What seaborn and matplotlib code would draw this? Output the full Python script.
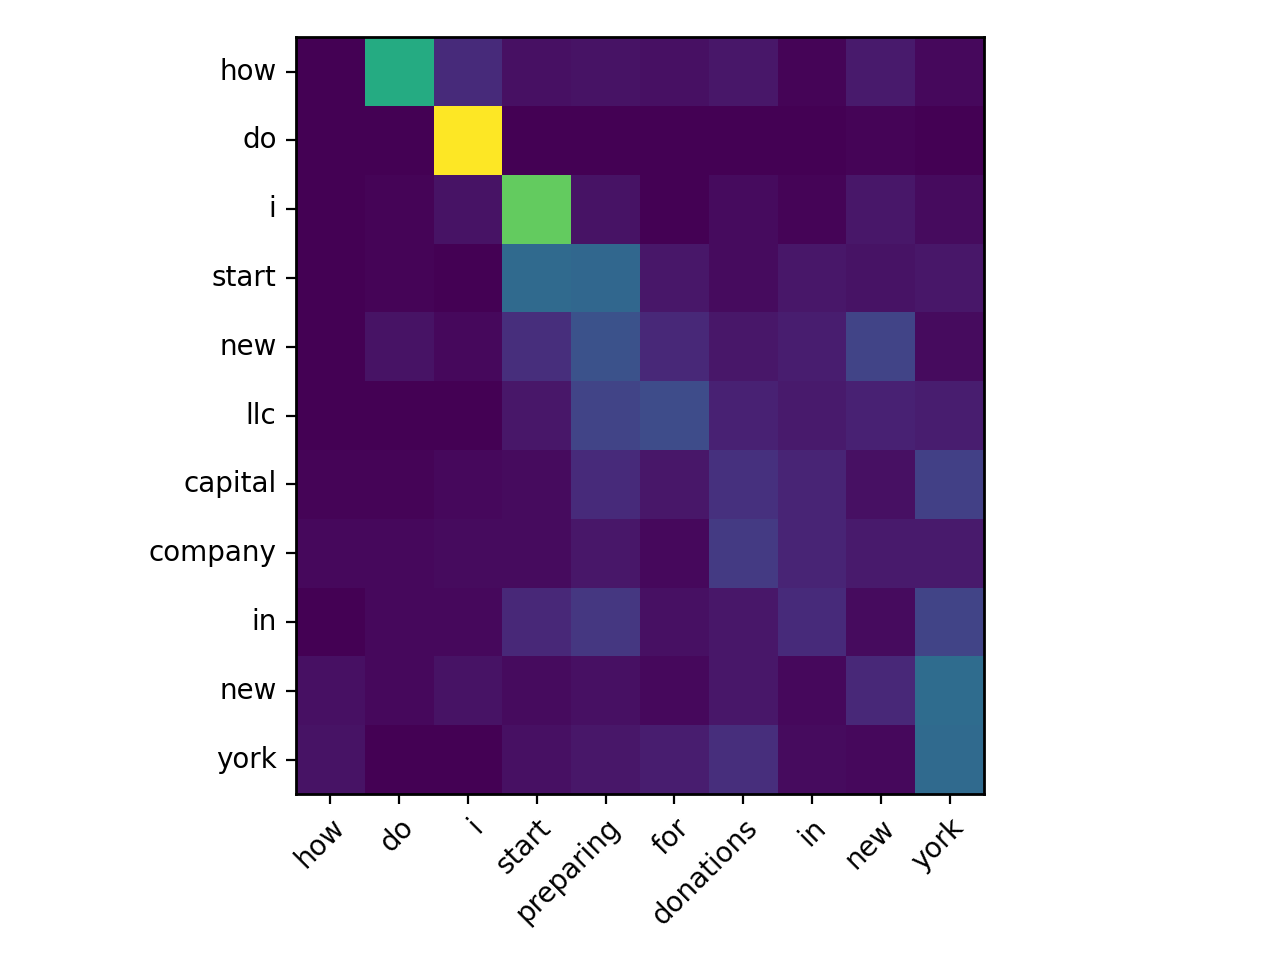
import matplotlib
matplotlib.use('Agg')
import matplotlib.pyplot as plt
import seaborn as sns
import pandas as pd
import numpy as np

# Source / target tokens
src_tokens = ['how', 'do', 'i', 'start', 'preparing', 'for', 'donations', 'in', 'new', 'york']
tgt_tokens = ['how', 'do', 'i', 'start', 'new', 'llc', 'capital', 'company', 'in', 'new', 'york']

# Attention weights, one row per target token
row_how = [0.00, 0.61, 0.12, 0.04, 0.05, 0.04, 0.06, 0.01, 0.07, 0.02]
row_do = [0.00, 0.00, 1.00, 0.00, 0.00, 0.00, 0.00, 0.00, 0.01, 0.00]
row_i = [0.00, 0.01, 0.05, 0.76, 0.05, 0.00, 0.03, 0.01, 0.06, 0.03]
row_start = [0.00, 0.01, 0.00, 0.34, 0.33, 0.06, 0.03, 0.06, 0.05, 0.06]
row_new1 = [0.00, 0.05, 0.02, 0.13, 0.25, 0.11, 0.06, 0.08, 0.20, 0.03]
row_llc = [0.00, 0.00, 0.00, 0.06, 0.20, 0.23, 0.09, 0.07, 0.09, 0.08]
row_capital = [0.01, 0.01, 0.02, 0.03, 0.12, 0.06, 0.14, 0.10, 0.04, 0.19]
row_company = [0.02, 0.02, 0.03, 0.03, 0.06, 0.02, 0.17, 0.10, 0.07, 0.07]
row_in = [0.00, 0.02, 0.02, 0.11, 0.16, 0.04, 0.06, 0.12, 0.03, 0.20]
row_new2 = [0.04, 0.02, 0.05, 0.03, 0.04, 0.02, 0.06, 0.02, 0.11, 0.35]
row_york = [0.05, 0.00, 0.00, 0.04, 0.06, 0.08, 0.13, 0.03, 0.02, 0.34]

attn = pd.DataFrame([row_how, row_do, row_i, row_start, row_new1, row_llc,
                     row_capital, row_company, row_in, row_new2, row_york],
                    columns=src_tokens)

fig, ax = plt.subplots(figsize=(6.4, 4.8), dpi=200)
sns.heatmap(attn, cmap='viridis', cbar=False, square=True, ax=ax,
            xticklabels=src_tokens, yticklabels=tgt_tokens)

# keep the black frame like imshow
for spine in ax.spines.values():
    spine.set_visible(True)
    spine.set_color('black')
    spine.set_linewidth(1.0)

ax.tick_params(axis='both', length=3.5, width=0.8, labelsize=10)
plt.setp(ax.get_yticklabels(), rotation=0)
plt.setp(ax.get_xticklabels(), rotation=45, ha='right', rotation_mode='anchor')

ax.set_position([0.2313, 0.1729, 0.5375, 0.7885])
plt.savefig('out.png', dpi=200)
plt.close()
